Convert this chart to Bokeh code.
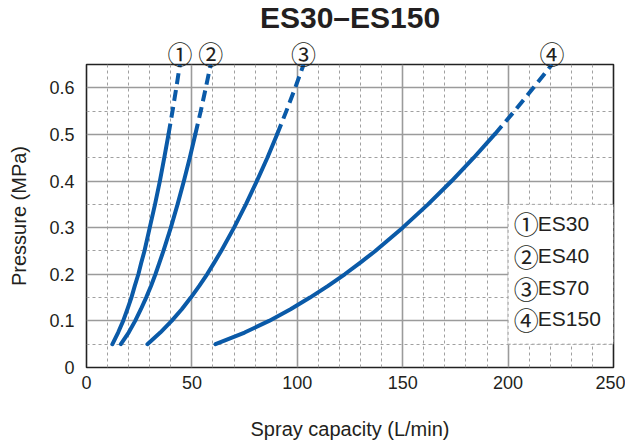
from bokeh.plotting import figure
from bokeh.models import FixedTicker, Range1d, LinearAxis
from bokeh.core.properties import value
from bokeh.embed import file_html
from bokeh.resources import INLINE

# ---- data ----
pressure = [0.05, 0.075, 0.10, 0.125, 0.15, 0.175, 0.20, 0.225, 0.25, 0.30, 0.35, 0.40,
            0.45, 0.50, 0.55, 0.60, 0.65]
es30 = [12.3, 15.0, 17.4, 19.4, 21.3, 22.9, 24.6, 26.0, 27.5, 30.0, 32.5, 34.8,
        36.9, 38.9, 40.8, 42.6, 44.3]
es40 = [16.3, 20.0, 23.1, 25.8, 28.3, 30.6, 32.7, 34.6, 36.5, 40.0, 43.2, 46.2,
        49.0, 51.6, 54.2, 56.6, 58.9]
es70 = [28.9, 35.0, 40.4, 45.2, 49.5, 53.5, 57.2, 60.6, 63.9, 70.0, 75.6, 80.8,
        85.8, 90.4, 94.8, 99.0, 103.0]
es150 = [61.2, 75.0, 86.6, 96.8, 106.0, 114.6, 122.5, 129.9, 137.0, 150.0, 162.0, 173.2,
         183.7, 193.6, 203.0, 212.0, 220.8]
series_names = ["ES30", "ES40", "ES70", "ES150"]
series_marks = ["\u2460", "\u2461", "\u2462", "\u2463"]
solid_limit = 0.5  # rated range drawn solid, beyond dashed

x_major = [0, 50, 100, 150, 200, 250]
x_minor = [v for v in range(10, 250, 10) if v % 50 != 0]
y_major = [0, 0.1, 0.2, 0.3, 0.4, 0.5, 0.6]
y_labels = ["0", "0.1", "0.2", "0.3", "0.4", "0.5", "0.6"]
y_minor = [0.05, 0.15, 0.25, 0.35, 0.45, 0.55, 0.65]

title_text = "ES30\u2013ES150"
x_label = "Spray capacity (L/min)"
y_label = "Pressure (MPa)"

# ---- style ----
BLUE = "#0a5aa8"
TXT = "#231f20"
FONT = "Liberation Sans"
CJK = "Noto Sans CJK JP"

p = figure(width=625, height=443, output_backend="svg", toolbar_location=None,
           x_range=Range1d(0, 250), y_range=Range1d(0, 0.65),
           min_border_left=86, min_border_right=12, min_border_top=64, min_border_bottom=76)
p.background_fill_color = "white"
p.border_fill_color = "white"
p.outline_line_color = "#222222"
p.outline_line_width = 1.6

p.title.text = title_text
p.title.align = "center"
p.title.text_font = FONT
p.title.text_font_size = "30px"
p.title.text_font_style = "bold"
p.title.text_color = TXT
p.title.standoff = -5

p.xaxis.ticker = FixedTicker(ticks=x_major, minor_ticks=x_minor)
p.yaxis.ticker = FixedTicker(ticks=y_major, minor_ticks=y_minor)
p.yaxis.major_label_overrides = {t: l for t, l in zip(y_major, y_labels)}

for ax in (p.xaxis, p.yaxis):
    ax.axis_line_color = None
    ax.major_tick_line_color = None
    ax.minor_tick_line_color = None
    ax.major_tick_out = 0
    ax.minor_tick_out = 0
    ax.major_label_text_font = FONT
    ax.major_label_text_font_size = "18px"
    ax.major_label_text_color = TXT
    ax.axis_label_text_font = FONT
    ax.axis_label_text_font_size = "20px"
    ax.axis_label_text_font_style = "normal"
    ax.axis_label_text_color = TXT

p.xaxis.axis_label = x_label
p.yaxis.axis_label = y_label
p.xaxis.major_label_standoff = 8
p.xaxis.axis_label_standoff = 26
p.yaxis.major_label_standoff = 12
p.yaxis.axis_label_standoff = 16

for g in (p.xgrid, p.ygrid):
    g.grid_line_color = "#9b9b9b"
    g.grid_line_width = 1.6
    g.minor_grid_line_color = "#a0a0a0"
    g.minor_grid_line_width = 1
    g.minor_grid_line_dash = "3 3"

# circled marks above the top end of each curve (as a top axis)
curves = (es30, es40, es70, es150)
top_x = [s[-1] for s in curves]
top_axis = LinearAxis(ticker=FixedTicker(ticks=top_x, minor_ticks=[]),
                      major_label_overrides={t: m for t, m in zip(top_x, series_marks)})
top_axis.axis_line_color = None
top_axis.major_tick_line_color = None
top_axis.minor_tick_line_color = None
top_axis.major_tick_out = 0
top_axis.minor_tick_out = 0
top_axis.major_label_standoff = -6
top_axis.major_label_text_font = CJK
top_axis.major_label_text_font_size = "25px"
top_axis.major_label_text_color = TXT
p.add_layout(top_axis, "above")

# legend background box (hides grid)
p.quad(left=[200], right=[250], bottom=[0.05], top=[0.35], fill_color="white",
       line_color="#a0a0a0", line_width=1, line_dash="3 3")

# curves
n_solid = sum(1 for v in pressure if v <= solid_limit)
for xs in curves:
    p.line(xs[:n_solid], pressure[:n_solid], line_color=BLUE, line_width=4,
           line_cap="round", line_join="round")
    p.line(xs[n_solid - 1:], pressure[n_solid - 1:], line_color=BLUE, line_width=4,
           line_dash="11 6", line_join="round")

# legend text
leg_y = [0.309, 0.240, 0.171, 0.105]
p.text(x=[202.7] * 4, y=leg_y, text=series_marks, text_font=value(CJK),
       text_font_size="25px", text_color=TXT, text_baseline="middle", text_align="left")
p.text(x=[202.7] * 4, y=leg_y, text=series_names, x_offset=24, text_font=value(FONT),
       text_font_size="21px", text_color=TXT, text_baseline="middle", text_align="left")

open("out.html", "w").write(file_html(p, INLINE))
